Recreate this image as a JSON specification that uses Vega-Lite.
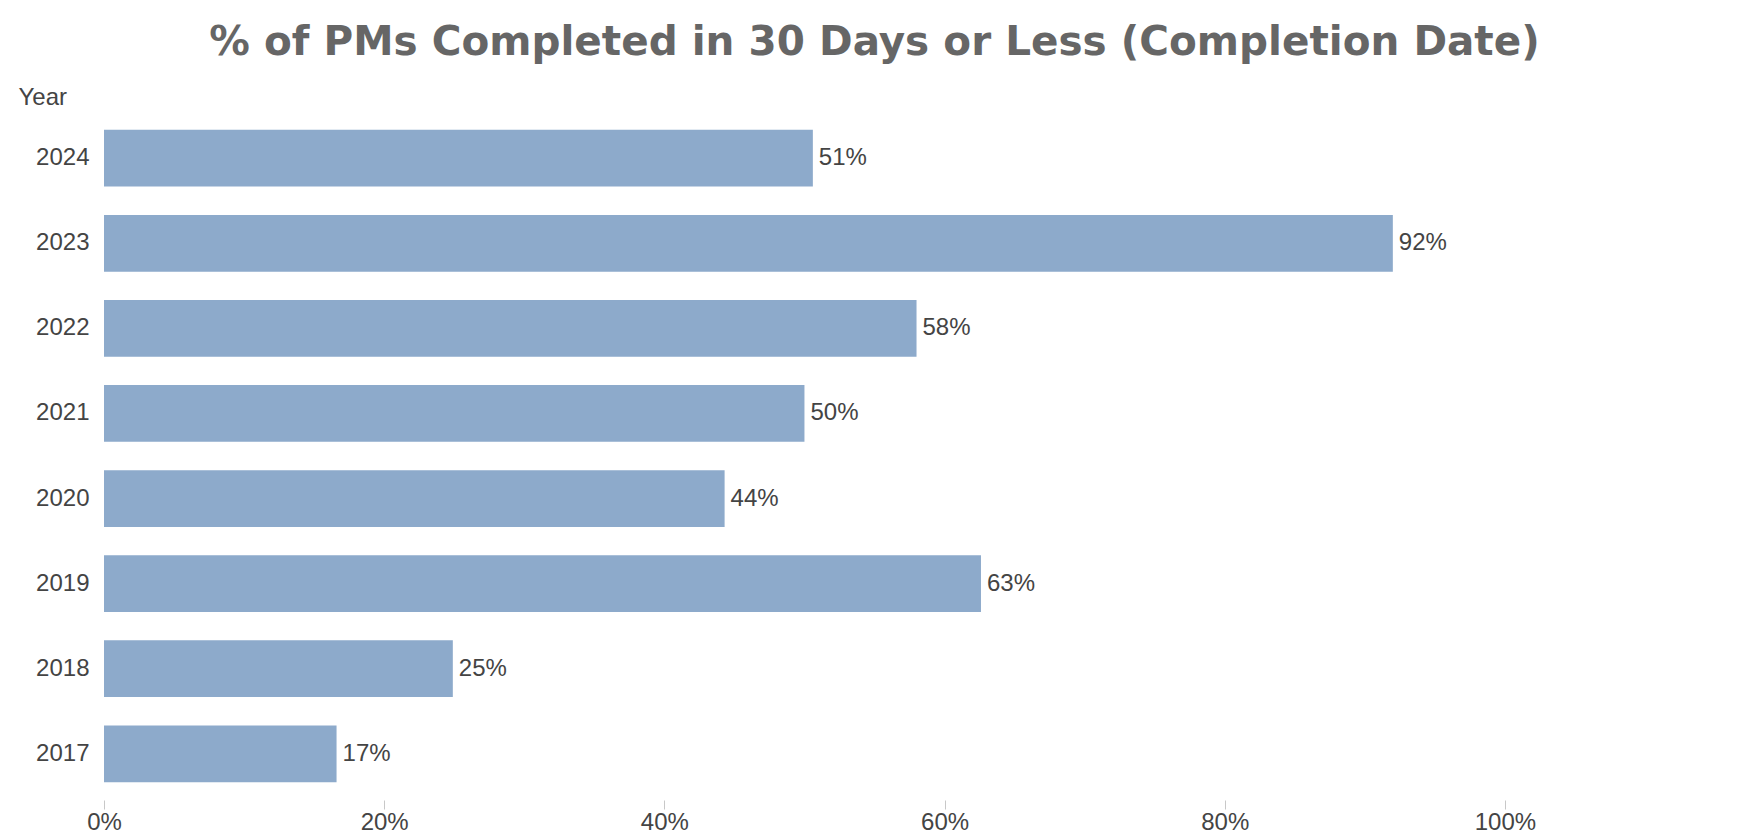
{
  "$schema": "https://vega.github.io/schema/vega-lite/v6.json",
  "autosize": {"type": "none"},
  "width": 1541,
  "height": 688,
  "padding": {"left": 104, "top": 112, "right": 97, "bottom": 37},
  "background": "#ffffff",
  "title": {
    "text": "% of PMs Completed in 30 Days or Less (Completion Date)",
    "anchor": "middle",
    "frame": "group",
    "font": "DejaVu Sans",
    "fontSize": 40.5,
    "fontWeight": "bold",
    "color": "#666666",
    "offset": 22
  },
  "data": {
    "values": [
      {"Year": "2024", "Pct": 0.506},
      {"Year": "2023", "Pct": 0.92},
      {"Year": "2022", "Pct": 0.58},
      {"Year": "2021", "Pct": 0.50},
      {"Year": "2020", "Pct": 0.443},
      {"Year": "2019", "Pct": 0.626},
      {"Year": "2018", "Pct": 0.249},
      {"Year": "2017", "Pct": 0.166}
    ]
  },
  "encoding": {
    "y": {
      "field": "Year",
      "type": "nominal",
      "sort": "descending",
      "scale": {"paddingInner": 0.333, "paddingOuter": 0.21},
      "axis": {
        "title": "Year",
        "titleAngle": 0,
        "titleAlign": "left",
        "titleBaseline": "middle",
        "titleX": -86,
        "titleY": -15,
        "titleFont": "Liberation Sans",
        "titleFontSize": 24,
        "titleFontWeight": "normal",
        "titleColor": "#444444",
        "labelFont": "Liberation Sans",
        "labelFontSize": 24,
        "labelColor": "#444444",
        "labelPadding": 15,
        "ticks": false,
        "domain": false
      }
    },
    "x": {
      "field": "Pct",
      "type": "quantitative",
      "scale": {"domain": [0, 1.1], "nice": false},
      "axis": {
        "title": null,
        "format": ".0%",
        "values": [0, 0.2, 0.4, 0.6, 0.8, 1.0],
        "grid": false,
        "domain": false,
        "ticks": true,
        "tickSize": 9,
        "tickColor": "#c8c8c8",
        "labelFlush": false,
        "labelFont": "Liberation Sans",
        "labelFontSize": 24,
        "labelColor": "#444444",
        "labelPadding": 1
      }
    }
  },
  "layer": [
    {"mark": {"type": "bar", "color": "#8DAACB"}},
    {
      "mark": {"type": "text", "align": "left", "baseline": "middle", "dx": 6, "font": "Liberation Sans", "fontSize": 24, "color": "#444444"},
      "encoding": {"text": {"field": "Pct", "type": "quantitative", "format": ".0%"}}
    }
  ],
  "config": {"view": {"stroke": null}}
}
